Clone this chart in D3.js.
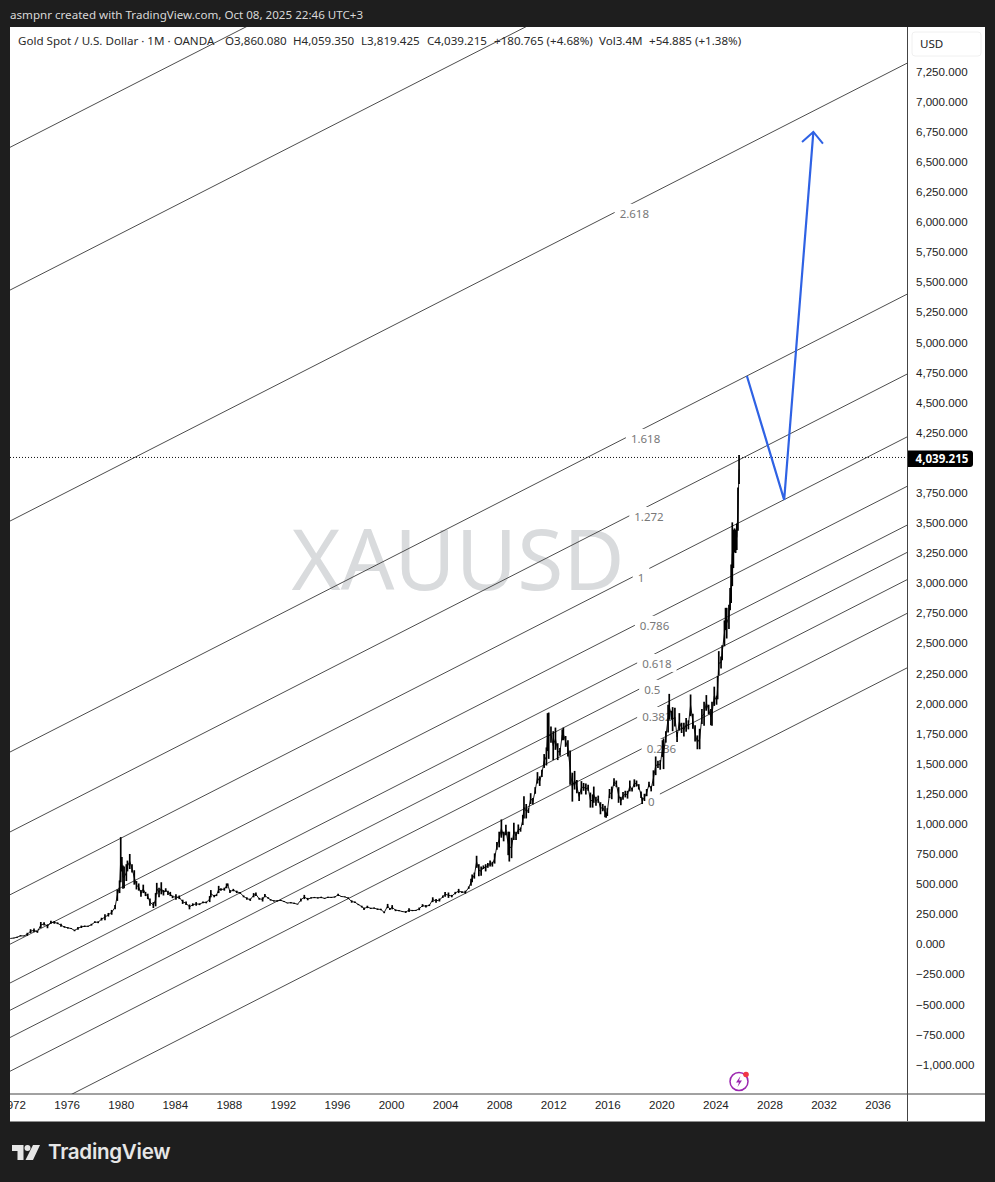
<!DOCTYPE html>
<html>
<head>
<meta charset="utf-8">
<title>XAUUSD</title>
<script src="https://cdn.jsdelivr.net/npm/d3@7"></script>
<style>
  html, body { margin: 0; padding: 0; background: #1e1e1e; }
  svg { display: block; font-family: "Noto Sans", "Open Sans", sans-serif; }
  .domain { display: none; }
</style>
</head>
<body>
<svg id="chart" width="995" height="1182"></svg>
<script>
// monthly bars, one line per year
const barDates = [
  "1971-11",
  "1972-02","1972-05","1972-08","1972-11",
  "1973-02","1973-05","1973-08","1973-11",
  "1974-02","1974-05","1974-08","1974-11",
  "1975-02","1975-05","1975-08","1975-11",
  "1976-02","1976-05","1976-08","1976-11",
  "1977-02","1977-05","1977-08","1977-11",
  "1978-02","1978-05","1978-08","1978-11",
  "1979-02","1979-05","1979-08","1979-10","1979-12",
  "1980-01","1980-02","1980-03","1980-04","1980-06","1980-07","1980-09","1980-11",
  "1981-01","1981-03","1981-05","1981-07","1981-09","1981-11",
  "1982-01","1982-03","1982-06","1982-08","1982-09","1982-11",
  "1983-01","1983-03","1983-05","1983-07","1983-09","1983-11",
  "1984-02","1984-05","1984-08","1984-11",
  "1985-02","1985-05","1985-08","1985-11",
  "1986-02","1986-05","1986-08","1986-09","1986-12",
  "1987-02","1987-04","1987-06","1987-09","1987-11","1987-12",
  "1988-02","1988-05","1988-08","1988-11",
  "1989-02","1989-05","1989-08","1989-11",
  "1990-01","1990-04","1990-07","1990-09","1990-12",
  "1991-02","1991-05","1991-08","1991-11",
  "1992-02","1992-05","1992-08","1992-11",
  "1993-02","1993-05","1993-08","1993-11",
  "1994-02","1994-05","1994-08","1994-11",
  "1995-02","1995-05","1995-08","1995-11",
  "1996-02","1996-05","1996-08","1996-11",
  "1997-02","1997-05","1997-08","1997-11",
  "1998-01","1998-04","1998-07","1998-10",
  "1999-01","1999-04","1999-07","1999-10","1999-12",
  "2000-02","2000-05","2000-08","2000-11",
  "2001-02","2001-05","2001-08","2001-11",
  "2002-02","2002-05","2002-08","2002-11",
  "2003-02","2003-05","2003-08","2003-11",
  "2004-01","2004-04","2004-07","2004-10",
  "2005-01","2005-04","2005-07","2005-10","2005-12",
  "2006-01","2006-03","2006-05","2006-07","2006-09","2006-11",
  "2007-01","2007-03","2007-05","2007-07","2007-09","2007-11",
  "2008-01","2008-03","2008-05","2008-07","2008-09","2008-10","2008-12",
  "2009-02","2009-04","2009-06","2009-08","2009-10","2009-11",
  "2010-01","2010-03","2010-05","2010-07","2010-09","2010-11",
  "2011-01","2011-03","2011-05","2011-07","2011-08","2011-09","2011-11",
  "2012-01","2012-03","2012-05","2012-07","2012-09","2012-10","2012-12",
  "2013-02","2013-04","2013-06","2013-08","2013-10","2013-12",
  "2014-02","2014-04","2014-06","2014-08","2014-10","2014-12",
  "2015-01","2015-03","2015-05","2015-07","2015-09","2015-11","2015-12",
  "2016-01","2016-03","2016-05","2016-07","2016-09","2016-11",
  "2017-01","2017-03","2017-05","2017-07","2017-09","2017-11",
  "2018-01","2018-03","2018-05","2018-07","2018-08","2018-10","2018-12",
  "2019-02","2019-04","2019-06","2019-08","2019-10","2019-12",
  "2020-02","2020-03","2020-05","2020-07","2020-08","2020-10","2020-11",
  "2021-01","2021-03","2021-05","2021-07","2021-09","2021-11",
  "2022-01","2022-03","2022-05","2022-07","2022-09","2022-11",
  "2023-01","2023-03","2023-05","2023-07","2023-09","2023-10","2023-12",
  "2024-02","2024-03","2024-04","2024-06","2024-07","2024-09","2024-10","2024-11",
  "2025-01","2025-02","2025-03","2025-04","2025-05","2025-06","2025-07","2025-08","2025-09","2025-10"
];
const barHighs = [
  44,
  49,58,70,66,
  90,120,125,105,
  180,178,160,190,
  188,176,165,145,
  137,130,116,138,
  150,150,148,165,
  185,185,215,245,
  255,280,320,450,525,
  885,720,650,640,660,690,745,660,
  610,520,500,445,490,430,
  415,375,345,420,505,465,
  510,445,460,440,430,400,
  410,400,365,350,
  325,335,345,335,
  350,350,395,445,405,
  410,480,460,465,500,500,
  445,455,440,430,
  400,385,375,420,
  425,380,385,412,385,
  370,360,360,365,
  355,340,345,340,
  330,375,405,380,
  385,388,385,390,
  380,390,388,392,
  415,395,392,385,
  360,350,330,315,
  300,315,298,300,
  292,290,265,330,295,
  320,285,280,270,
  270,295,280,280,
  300,328,320,325,
  385,370,375,400,
  430,425,405,430,
  455,435,440,475,540,
  575,590,730,660,640,650,
  660,670,690,680,750,845,
  930,1032,930,988,930,930,880,
  1005,930,990,965,1070,1225,
  1160,1125,1250,1210,1300,1425,
  1390,1445,1575,1630,1915,1920,1805,
  1765,1795,1665,1625,1780,1795,1725,
  1690,1605,1420,1435,1360,1260,
  1350,1335,1330,1320,1255,1240,
  1305,1220,1230,1175,1160,1145,1090,
  1125,1285,1305,1375,1355,1300,
  1220,1260,1270,1270,1355,1295,
  1365,1355,1325,1265,1215,1245,1285,
  1345,1310,1440,1555,1520,1525,
  1690,1705,1765,1985,2075,1935,1965,
  1960,1760,1915,1835,1835,1875,
  1855,2070,1910,1815,1730,1785,
  1950,2010,2065,1985,1950,2010,2135,
  2060,2225,2430,2385,2480,2685,2790,2790,
  2815,2955,3150,3500,3440,3450,3440,3490,3790,4059.35
];
const barLows = [
  42,
  44,48,60,62,
  65,88,95,90,
  130,150,128,165,
  165,162,140,132,
  125,122,103,116,
  130,138,140,150,
  172,170,192,195,
  225,240,285,355,420,
  510,600,455,460,520,600,620,590,
  490,450,440,390,420,395,
  370,315,296,310,410,385,
  410,400,430,405,395,378,
  365,370,330,322,
  285,312,315,320,
  335,335,345,385,385,
  395,420,440,440,460,480,
  420,435,420,415,
  385,365,355,385,
  395,365,350,385,372,
  358,350,350,355,
  345,335,335,330,
  325,350,370,360,
  375,378,375,378,
  372,380,380,383,
  395,388,385,370,
  340,338,320,300,
  280,295,288,290,
  280,278,253,295,280,
  285,270,270,263,
  255,262,270,272,
  278,305,300,312,
  345,340,350,380,
  390,380,385,410,
  420,420,415,455,480,
  510,540,630,560,565,620,
  600,630,640,640,665,780,
  800,880,850,900,735,682,710,
  860,860,910,930,985,1040,
  1040,1085,1160,1155,1245,1330,
  1310,1385,1460,1480,1600,1535,1670,
  1525,1610,1525,1560,1690,1690,1635,
  1555,1320,1180,1280,1250,1185,
  1240,1270,1240,1270,1130,1130,
  1170,1145,1170,1075,1100,1050,1045,
  1060,1210,1200,1310,1300,1170,
  1150,1195,1215,1205,1265,1265,
  1300,1305,1280,1210,1160,1185,1225,
  1300,1265,1310,1400,1460,1445,
  1550,1450,1670,1755,1860,1860,1765,
  1805,1675,1770,1750,1720,1760,
  1780,1890,1785,1680,1615,1615,
  1825,1810,1935,1905,1815,1810,1975,
  1985,2030,2230,2285,2355,2470,2605,2535,
  2615,2770,2830,2970,3120,3250,3245,3270,3430,3819.425
];

const lastPrice = 4039.215;
const yearTicks = ["1972","1976","1980","1984","1988","1992","1996","2000","2004","2008","2012","2016","2020","2024","2028","2032","2036"];
const priceTicks = [7250,7000,6750,6500,6250,6000,5750,5500,5250,5000,4750,4500,4250,3750,3500,3250,3000,2750,2500,2250,2000,1750,1500,1250,1000,750,500,250,0,-250,-500,-750,-1000];

// fib channel: baseline through two anchors, each level shifts it up
const fibAnchorDates = ["1976-06","2038-03"];
const fibAnchorPrices = [-1249, 2290];
const fibUnit = 1919;
const fibLevels = [0,0.236,0.382,0.5,0.618,0.786,1,1.272,1.618,2.618,3.618,4.236];
// where each level's label sits on the chart, null = no label
const fibLabelDates = ["2019-04","2020-01","2019-09","2019-05","2019-09","2019-07","2018-07","2019-02","2018-11","2018-01",null,null];
const fibLabelPrices = [1177,1618,1884,2108,2324,2640,3039,3545,4193,6063,null,null];

// hand drawn projection
const arrowDates = ["2026-05","2029-02","2031-04"];
const arrowPrices = [4716, 3687, 6744];

const legendParts = [
  ["Gold Spot / U.S. Dollar · 1M · OANDA", 18],
  ["O3,860.080", 225], ["H4,059.350", 293], ["L3,819.425", 361], ["C4,039.215", 427],
  ["+180.765 (+4.68%)", 494], ["Vol3.4M", 599], ["+54.885 (+1.38%)", 649]
];

const parseMonth = d3.timeParse("%Y-%m");
const parseYear = d3.timeParse("%Y");

const plot = { left: 10, right: 907.5, top: 27, bottom: 1094 };
const x = d3.scaleTime()
  .domain([parseYear("1972"), parseYear("2036")])
  .range([12.6, 877.6]);
const y = d3.scaleLinear()
  .domain([7250, -1000])
  .range([71, 1064]);

const bars = barDates.map((d, i) => ({ date: parseMonth(d), high: barHighs[i], low: barLows[i] }));

const svg = d3.select("#chart");

svg.append("rect").attr("width", 995).attr("height", 1182).attr("fill", "#1e1e1e");
svg.append("rect").attr("x", 10).attr("y", 27).attr("width", 975).attr("height", 1094.5).attr("fill", "#fff");

svg.append("defs").append("clipPath").attr("id", "plot-clip")
  .append("rect")
  .attr("x", plot.left).attr("y", plot.top)
  .attr("width", plot.right - plot.left).attr("height", plot.bottom - plot.top);
d3.select("defs").append("clipPath").attr("id", "xaxis-clip")
  .append("rect").attr("x", 10).attr("y", 1094).attr("width", 897).attr("height", 28);

svg.append("text")
  .attr("x", 10).attr("y", 19)
  .attr("fill", "#d8d8d8").attr("font-size", 11.6)
  .text("asmpnr created with TradingView.com, Oct 08, 2025 22:46 UTC+3");

const main = svg.append("g").attr("clip-path", "url(#plot-clip)");

main.append("text")
  .attr("x", 458).attr("y", 590)
  .attr("text-anchor", "middle")
  .attr("fill", "#d9dbdd").attr("font-size", 84)
  .text("XAUUSD");

// fib lines
const t0 = parseMonth(fibAnchorDates[0]);
const t1 = parseMonth(fibAnchorDates[1]);
const basePrice = d3.scaleTime().domain([t0, t1]).range(fibAnchorPrices);
const fibPoint = (date, level) => [x(date), y(basePrice(date) + level * fibUnit)];

const fibG = main.append("g");
fibLevels.forEach(level => {
  const a = fibPoint(x.invert(plot.left), level);
  const b = fibPoint(x.invert(plot.right), level);
  fibG.append("line")
    .attr("x1", a[0]).attr("y1", a[1])
    .attr("x2", b[0]).attr("y2", b[1])
    .attr("stroke", "#4d4d4d").attr("stroke-width", 1);
});

// labels knock a white box out of the lines
const labelG = main.append("g");
fibLevels.forEach((level, i) => {
  if (!fibLabelDates[i]) return;
  const box = labelG.append("rect").attr("fill", "#fff");
  const label = labelG.append("text")
    .attr("x", x(parseMonth(fibLabelDates[i])))
    .attr("y", y(fibLabelPrices[i]) + 4)
    .attr("text-anchor", "middle")
    .attr("fill", "#787878").attr("font-size", 11.5)
    .text(level);
  const bb = label.node().getBBox();
  box.attr("x", bb.x - 5).attr("y", bb.y - 2).attr("width", bb.width + 10).attr("height", bb.height + 3);
});

// last price line
main.append("line")
  .attr("x1", plot.left).attr("x2", plot.right)
  .attr("y1", y(lastPrice)).attr("y2", y(lastPrice))
  .attr("stroke", "#111").attr("stroke-width", 1).attr("stroke-dasharray", "1 2");

// candles
main.append("path")
  .datum(bars)
  .attr("fill", "none").attr("stroke", "#000").attr("stroke-width", 0.9)
  .attr("d", d3.line().x(d => x(d.date)).y(d => y((d.high + d.low) / 2)));

main.append("g").selectAll("line")
  .data(bars)
  .enter()
  .append("line")
  .attr("x1", d => x(d.date)).attr("x2", d => x(d.date))
  .attr("y1", d => y(d.high)).attr("y2", d => y(d.low))
  .attr("stroke", "#000").attr("stroke-width", 1.7);

// projection arrow
d3.select("defs").append("marker")
  .attr("id", "arrow-head")
  .attr("markerUnits", "userSpaceOnUse")
  .attr("markerWidth", 30).attr("markerHeight", 30)
  .attr("refX", 15).attr("refY", 15)
  .attr("orient", "auto")
  .attr("viewBox", "0 0 30 30")
  .append("path")
  .attr("d", "M4 4.5L15 15L4 25.5")
  .attr("fill", "none").attr("stroke", "#2f62e4").attr("stroke-width", 2);

main.append("path")
  .datum(arrowDates.map((d, i) => ({ date: parseMonth(d), price: arrowPrices[i] })))
  .attr("fill", "none").attr("stroke", "#2f62e4").attr("stroke-width", 2.2)
  .attr("marker-end", "url(#arrow-head)")
  .attr("d", d3.line().x(d => x(d.date)).y(d => y(d.price)));

// legend
svg.append("g").selectAll("text")
  .data(legendParts)
  .enter()
  .append("text")
  .attr("x", d => d[1]).attr("y", 45)
  .attr("fill", "#2a2a2a").attr("font-size", 11.6)
  .text(d => d[0]);

// axes
svg.append("line").attr("x1", plot.right).attr("x2", plot.right).attr("y1", 27).attr("y2", 1121).attr("stroke", "#444");
svg.append("line").attr("x1", 10).attr("x2", 985).attr("y1", plot.bottom).attr("y2", plot.bottom).attr("stroke", "#444");

const yAxis = d3.axisRight(y)
  .tickValues(priceTicks)
  .tickSize(0)
  .tickPadding(0)
  .tickFormat(d3.format(",.3f"));
const yG = svg.append("g").attr("transform", "translate(916,0.5)").call(yAxis);
yG.selectAll("text").attr("fill", "#222").attr("font-size", 11.6).attr("font-family", "inherit");

const xAxis = d3.axisBottom(x)
  .tickValues(yearTicks.map(parseYear))
  .tickSize(0)
  .tickPadding(0)
  .tickFormat(d3.timeFormat("%Y"));
const xG = svg.append("g").attr("clip-path", "url(#xaxis-clip)")
  .append("g").attr("transform", "translate(0,1101)").call(xAxis);
xG.selectAll("text").attr("fill", "#222").attr("font-size", 11.6).attr("font-family", "inherit");

// USD button
svg.append("rect").attr("x", 912).attr("y", 32).attr("width", 69).attr("height", 24).attr("rx", 3)
  .attr("fill", "#fff").attr("stroke", "#f0f0f0");
svg.append("text").attr("x", 920).attr("y", 48).attr("fill", "#222").attr("font-size", 11.6).text("USD");

// last price tag
svg.append("path")
  .attr("d", "M908 450.5H970a3 3 0 0 1 3 3V464a3 3 0 0 1 -3 3H908Z")
  .attr("fill", "#000");
svg.append("text").attr("x", 915.5).attr("y", 462.5)
  .attr("fill", "#fff").attr("font-size", 11.6).attr("font-weight", 700)
  .text(d3.format(",.3f")(lastPrice));

// flash icon near the time axis
const icon = svg.append("g").attr("transform", "translate(739,1081.5)");
icon.append("circle").attr("r", 9).attr("fill", "#fff").attr("stroke", "#9c27b0").attr("stroke-width", 1.5);
icon.append("path").attr("d", "M1.5 -5.5L-3 1H0L-1.5 5.5L3 -1H0Z").attr("fill", "#9c27b0");
icon.append("circle").attr("cx", 7).attr("cy", -7).attr("r", 2.8).attr("fill", "#f23645");

// footer logo
const logo = svg.append("g").attr("transform", "translate(12,1144)").attr("fill", "#e6e6e6");
logo.append("path").attr("d", "M0 1H11.5V16H5.5V7H0Z");
logo.append("circle").attr("cx", 15.5).attr("cy", 4).attr("r", 3);
logo.append("path").attr("d", "M21 1H28L21 16H13.5Z");
svg.append("text").attr("x", 48).attr("y", 1159)
  .attr("fill", "#e6e6e6").attr("font-size", 20.6).attr("font-weight", 600)
  .attr("font-family", "Inter, sans-serif").attr("letter-spacing", -0.3)
  .text("TradingView");
</script>
</body>
</html>
